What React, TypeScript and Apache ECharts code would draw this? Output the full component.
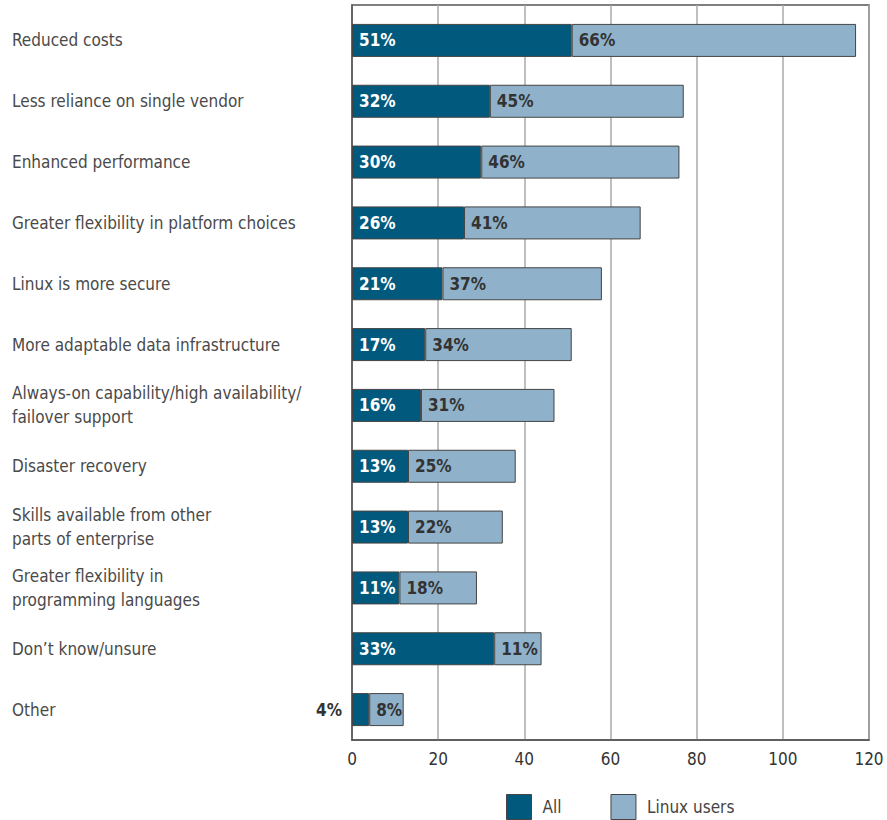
import React, { useEffect, useRef } from "react";
import * as echarts from "echarts";

const categories = [
  "Reduced costs",
  "Less reliance on single vendor",
  "Enhanced performance",
  "Greater flexibility in platform choices",
  "Linux is more secure",
  "More adaptable data infrastructure",
  "Always-on capability/high availability/\nfailover support",
  "Disaster recovery",
  "Skills available from other\nparts of enterprise",
  "Greater flexibility in\nprogramming languages",
  "Don\u2019t know/unsure",
  "Other",
];
const allValues = [51, 32, 30, 26, 21, 17, 16, 13, 13, 11, 33, 4];
const linuxValues = [66, 45, 46, 41, 37, 34, 31, 25, 22, 18, 11, 8];
const xTicks = [0, 20, 40, 60, 80, 100, 120];

const FONT = "'Liberation Sans Narrow', 'DejaVu Sans Condensed', 'Roboto', sans-serif";
const DARK = "#015a7d";
const LIGHT = "#8fb2ca";

export default function App() {
  const ref = useRef<HTMLDivElement>(null);
  useEffect(() => {
    if (!ref.current) return;
    const chart = echarts.init(ref.current, undefined, { renderer: "svg" });
    const xMin = xTicks[0];
    const xMax = xTicks[xTicks.length - 1];
    chart.setOption({
      animation: false,
      backgroundColor: "#ffffff",
      textStyle: { fontFamily: FONT },
      grid: [
        { left: 352, right: 18, top: 10, bottom: 80, show: false },
        {
          left: 352,
          right: 18,
          top: 5,
          bottom: 80,
          show: true,
          borderColor: "#555555",
          borderWidth: 1.5,
          backgroundColor: "transparent",
        },
      ],
      legend: {
        top: 794,
        left: 506,
        padding: 0,
        itemWidth: 25,
        itemHeight: 25,
        itemGap: 49,
        icon: "rect",
        textStyle: { fontFamily: FONT, fontSize: 17, color: "#444444", padding: [0, 0, 0, 6] },
        data: [
          { name: "All", itemStyle: { color: DARK, borderColor: "#444", borderWidth: 1 } },
          { name: "Linux users", itemStyle: { color: LIGHT, borderColor: "#444", borderWidth: 1 } },
        ],
      },
      xAxis: [
        {
          type: "value",
          gridIndex: 0,
          min: xMin,
          max: xMax,
          interval: 20,
          axisLine: { show: false },
          axisTick: { show: false },
          axisLabel: { fontFamily: FONT, fontSize: 17, color: "#333333", margin: 10 },
          splitLine: { show: false },
        },
        {
          type: "value",
          gridIndex: 1,
          min: xMin,
          max: xMax,
          interval: 20,
          axisLine: { show: true, lineStyle: { color: "#555555", width: 1.5 } },
          axisTick: { show: false },
          axisLabel: { show: false },
          splitLine: { show: true, lineStyle: { color: "#aaaaaa", width: 1.5 } },
        },
      ],
      yAxis: [
        {
          type: "category",
          gridIndex: 0,
          inverse: true,
          data: categories,
          axisLine: { show: false },
          axisTick: { show: false },
          axisLabel: {
            align: "left",
            margin: 340,
            fontFamily: FONT,
            fontSize: 17,
            color: "#4a4a4a",
            lineHeight: 24,
          },
        },
        {
          type: "value",
          gridIndex: 1,
          min: 0,
          max: 1,
          axisLine: { show: true, lineStyle: { color: "#555555", width: 1.5 } },
          axisTick: { show: false },
          axisLabel: { show: false },
          splitLine: { show: false },
        },
      ],
      series: [
        {
          name: "All",
          type: "bar",
          stack: "total",
          xAxisIndex: 0,
          yAxisIndex: 0,
          barWidth: 33,
          itemStyle: { color: DARK, borderColor: "#444444", borderWidth: 1 },
          label: {
            show: true,
            position: "insideLeft",
            formatter: "{c}%",
            color: "#ffffff",
            fontWeight: "bold",
            fontSize: 17,
            fontFamily: FONT,
            distance: 7,
          },
          data: allValues.map((v, i) =>
            i === allValues.length - 1
              ? { value: v, label: { position: "left", color: "#333333", distance: 10 } }
              : v
          ),
        },
        {
          name: "Linux users",
          type: "bar",
          stack: "total",
          xAxisIndex: 0,
          yAxisIndex: 0,
          barWidth: 33,
          itemStyle: { color: LIGHT, borderColor: "#444444", borderWidth: 1 },
          label: {
            show: true,
            position: "insideLeft",
            formatter: "{c}%",
            color: "#333333",
            fontWeight: "bold",
            fontSize: 17,
            fontFamily: FONT,
            distance: 7,
          },
          data: linuxValues,
        },
      ],
    });
    return () => chart.dispose();
  }, []);
  return (
    <div
      ref={ref}
      style={{ position: "fixed", left: 0, top: 0, width: 887, height: 820, background: "#fff" }}
    />
  );
}
